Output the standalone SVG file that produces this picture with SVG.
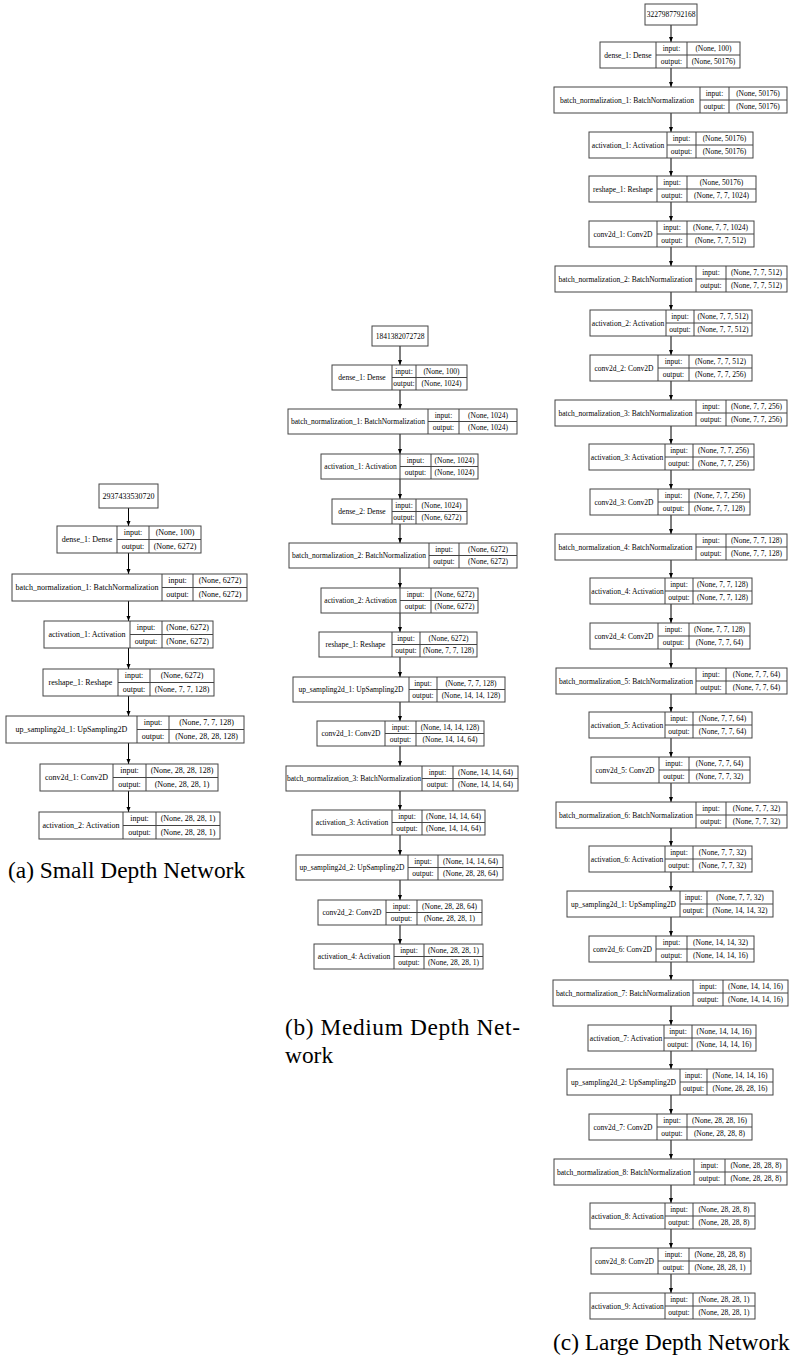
<svg xmlns="http://www.w3.org/2000/svg" width="792" height="1363" viewBox="0 0 792 1363">
<style>
.n rect{fill:#fff;stroke:#444;stroke-width:1}
.n path{fill:none;stroke:#444;stroke-width:1}
.n text{font-family:"Liberation Serif","Times New Roman",serif;font-size:7.5px;text-anchor:middle;fill:#000}
.s text{font-size:8px}
.e path{fill:none;stroke:#000;stroke-width:1}
.cap{font-family:"Liberation Serif","Times New Roman",serif;font-size:23.4px;fill:#000}
</style>
<defs>
<marker id="ah" viewBox="0 0 10 10" refX="10" refY="5" markerWidth="5" markerHeight="5" orient="auto" markerUnits="userSpaceOnUse"><path d="M0,1L10,5L0,9z" fill="#000"/></marker>
</defs>
<g id="connectors" class="e">
<path d="M128.5,508V526" marker-end="url(#ah)"/><path d="M128.5,553V574" marker-end="url(#ah)"/><path d="M128.5,601V621" marker-end="url(#ah)"/><path d="M128.5,648V669" marker-end="url(#ah)"/><path d="M128.5,696V716" marker-end="url(#ah)"/><path d="M128.5,743V764" marker-end="url(#ah)"/><path d="M128.5,791V812" marker-end="url(#ah)"/>
<path d="M400,346V365" marker-end="url(#ah)"/><path d="M400,390V409" marker-end="url(#ah)"/><path d="M400,434V454" marker-end="url(#ah)"/><path d="M400,479V499" marker-end="url(#ah)"/><path d="M400,524V543" marker-end="url(#ah)"/><path d="M400,568V588" marker-end="url(#ah)"/><path d="M400,613V632" marker-end="url(#ah)"/><path d="M400,657V677" marker-end="url(#ah)"/><path d="M400,702V721" marker-end="url(#ah)"/><path d="M400,746V766" marker-end="url(#ah)"/><path d="M400,791V810" marker-end="url(#ah)"/><path d="M400,835V855" marker-end="url(#ah)"/><path d="M400,880V900" marker-end="url(#ah)"/><path d="M400,925V944" marker-end="url(#ah)"/>
<path d="M671,25V42" marker-end="url(#ah)"/><path d="M671,68V87" marker-end="url(#ah)"/><path d="M671,113V132" marker-end="url(#ah)"/><path d="M671,158V176" marker-end="url(#ah)"/><path d="M671,202V221" marker-end="url(#ah)"/><path d="M671,247V266" marker-end="url(#ah)"/><path d="M671,292V310" marker-end="url(#ah)"/><path d="M671,336V355" marker-end="url(#ah)"/><path d="M671,381V400" marker-end="url(#ah)"/><path d="M671,426V444" marker-end="url(#ah)"/><path d="M671,470V489" marker-end="url(#ah)"/><path d="M671,515V534" marker-end="url(#ah)"/><path d="M671,560V578" marker-end="url(#ah)"/><path d="M671,604V623" marker-end="url(#ah)"/><path d="M671,649V668" marker-end="url(#ah)"/><path d="M671,694V712" marker-end="url(#ah)"/><path d="M671,738V757" marker-end="url(#ah)"/><path d="M671,783V802" marker-end="url(#ah)"/><path d="M671,828V846" marker-end="url(#ah)"/><path d="M671,872V891" marker-end="url(#ah)"/><path d="M671,917V936" marker-end="url(#ah)"/><path d="M671,962V980" marker-end="url(#ah)"/><path d="M671,1006V1025" marker-end="url(#ah)"/><path d="M671,1051V1069" marker-end="url(#ah)"/><path d="M671,1095V1114" marker-end="url(#ah)"/><path d="M671,1140V1159" marker-end="url(#ah)"/><path d="M671,1185V1203" marker-end="url(#ah)"/><path d="M671,1229V1248" marker-end="url(#ah)"/><path d="M671,1274V1293" marker-end="url(#ah)"/>
</g>

<!-- (a) Small -->
<g id="a_input" class="n s"><rect x="99" y="484" width="59" height="24"/><text x="128.5" y="499">2937433530720</text></g>
<g id="a_dense_1" class="n s"><rect x="57" y="526" width="144" height="27"/><path d="M117,526v27M149,526v27M117,539.5H201"/><text x="87" y="542.2">dense_1: Dense</text><text x="133" y="535.4">input:</text><text x="133" y="548.9">output:</text><text x="175" y="535.4">(None, 100)</text><text x="175" y="548.9">(None, 6272)</text></g>
<g id="a_batch_normalization_1" class="n s"><rect x="12" y="574" width="235" height="27"/><path d="M162,574v27M193,574v27M162,587.5H247"/><text x="87" y="590.2">batch_normalization_1: BatchNormalization</text><text x="177.5" y="583.4">input:</text><text x="177.5" y="596.9">output:</text><text x="220" y="583.4">(None, 6272)</text><text x="220" y="596.9">(None, 6272)</text></g>
<g id="a_activation_1" class="n s"><rect x="44" y="621" width="169" height="27"/><path d="M130,621v27M162,621v27M130,634.5H213"/><text x="87" y="637.2">activation_1: Activation</text><text x="146" y="630.4">input:</text><text x="146" y="643.9">output:</text><text x="187.5" y="630.4">(None, 6272)</text><text x="187.5" y="643.9">(None, 6272)</text></g>
<g id="a_reshape_1" class="n s"><rect x="43" y="669" width="171" height="27"/><path d="M118,669v27M150,669v27M118,682.5H214"/><text x="80.5" y="685.2">reshape_1: Reshape</text><text x="134" y="678.4">input:</text><text x="134" y="691.9">output:</text><text x="182" y="678.4">(None, 6272)</text><text x="182" y="691.9">(None, 7, 7, 128)</text></g>
<g id="a_up_sampling2d_1" class="n s"><rect x="6" y="716" width="238" height="27"/><path d="M137,716v27M169,716v27M137,729.5H244"/><text x="71.5" y="732.2">up_sampling2d_1: UpSampling2D</text><text x="153" y="725.4">input:</text><text x="153" y="738.9">output:</text><text x="206.5" y="725.4">(None, 7, 7, 128)</text><text x="206.5" y="738.9">(None, 28, 28, 128)</text></g>
<g id="a_conv2d_1" class="n s"><rect x="40" y="764" width="178" height="27"/><path d="M113,764v27M146,764v27M113,777.5H218"/><text x="76.5" y="780.2">conv2d_1: Conv2D</text><text x="129.5" y="773.4">input:</text><text x="129.5" y="786.9">output:</text><text x="182" y="773.4">(None, 28, 28, 128)</text><text x="182" y="786.9">(None, 28, 28, 1)</text></g>
<g id="a_activation_2" class="n s"><rect x="39" y="812" width="181" height="27"/><path d="M123,812v27M156,812v27M123,825.5H220"/><text x="81" y="828.2">activation_2: Activation</text><text x="139.5" y="821.4">input:</text><text x="139.5" y="834.9">output:</text><text x="188" y="821.4">(None, 28, 28, 1)</text><text x="188" y="834.9">(None, 28, 28, 1)</text></g>
<text class="cap" x="8" y="878">(a) Small Depth Network</text>

<!-- (b) Medium -->
<g id="b_input" class="n"><rect x="372" y="326" width="56" height="20"/><text x="400" y="338.6">1841382072728</text></g>
<g id="b_dense_1" class="n"><rect x="332" y="365" width="135" height="25"/><path d="M392,365v25M416,365v25M392,377.5H467"/><text x="362" y="380">dense_1: Dense</text><text x="404" y="373.8">input:</text><text x="404" y="386.3">output:</text><text x="441.5" y="373.8">(None, 100)</text><text x="441.5" y="386.3">(None, 1024)</text></g>
<g id="b_batch_normalization_1" class="n"><rect x="288" y="409" width="229" height="25"/><path d="M428,409v25M459,409v25M428,421.5H517"/><text x="358" y="424">batch_normalization_1: BatchNormalization</text><text x="443.5" y="417.8">input:</text><text x="443.5" y="430.3">output:</text><text x="488" y="417.8">(None, 1024)</text><text x="488" y="430.3">(None, 1024)</text></g>
<g id="b_activation_1" class="n"><rect x="321" y="454" width="157" height="25"/><path d="M400,454v25M431,454v25M400,466.5H478"/><text x="360.5" y="469">activation_1: Activation</text><text x="415.5" y="462.8">input:</text><text x="415.5" y="475.3">output:</text><text x="454.5" y="462.8">(None, 1024)</text><text x="454.5" y="475.3">(None, 1024)</text></g>
<g id="b_dense_2" class="n"><rect x="332" y="499" width="135" height="25"/><path d="M392,499v25M416,499v25M392,511.5H467"/><text x="362" y="514">dense_2: Dense</text><text x="404" y="507.8">input:</text><text x="404" y="520.3">output:</text><text x="441.5" y="507.8">(None, 1024)</text><text x="441.5" y="520.3">(None, 6272)</text></g>
<g id="b_batch_normalization_2" class="n"><rect x="289" y="543" width="228" height="25"/><path d="M429,543v25M459,543v25M429,555.5H517"/><text x="359" y="558">batch_normalization_2: BatchNormalization</text><text x="444" y="551.8">input:</text><text x="444" y="564.3">output:</text><text x="488" y="551.8">(None, 6272)</text><text x="488" y="564.3">(None, 6272)</text></g>
<g id="b_activation_2" class="n"><rect x="321" y="588" width="157" height="25"/><path d="M400,588v25M431,588v25M400,600.5H478"/><text x="360.5" y="603">activation_2: Activation</text><text x="415.5" y="596.8">input:</text><text x="415.5" y="609.3">output:</text><text x="454.5" y="596.8">(None, 6272)</text><text x="454.5" y="609.3">(None, 6272)</text></g>
<g id="b_reshape_1" class="n"><rect x="319" y="632" width="158" height="25"/><path d="M392,632v25M420,632v25M392,644.5H477"/><text x="355.5" y="647">reshape_1: Reshape</text><text x="406" y="640.8">input:</text><text x="406" y="653.3">output:</text><text x="448.5" y="640.8">(None, 6272)</text><text x="448.5" y="653.3">(None, 7, 7, 128)</text></g>
<g id="b_up_sampling2d_1" class="n"><rect x="293" y="677" width="212" height="25"/><path d="M409,677v25M437,677v25M409,689.5H505"/><text x="351" y="692">up_sampling2d_1: UpSampling2D</text><text x="423" y="685.8">input:</text><text x="423" y="698.3">output:</text><text x="471" y="685.8">(None, 7, 7, 128)</text><text x="471" y="698.3">(None, 14, 14, 128)</text></g>
<g id="b_conv2d_1" class="n"><rect x="317" y="721" width="167" height="25"/><path d="M385,721v25M416,721v25M385,733.5H484"/><text x="351" y="736">conv2d_1: Conv2D</text><text x="400.5" y="729.8">input:</text><text x="400.5" y="742.3">output:</text><text x="450" y="729.8">(None, 14, 14, 128)</text><text x="450" y="742.3">(None, 14, 14, 64)</text></g>
<g id="b_batch_normalization_3" class="n"><rect x="286" y="766" width="232" height="25"/><path d="M422,766v25M453,766v25M422,778.5H518"/><text x="354" y="781">batch_normalization_3: BatchNormalization</text><text x="437.5" y="774.8">input:</text><text x="437.5" y="787.3">output:</text><text x="485.5" y="774.8">(None, 14, 14, 64)</text><text x="485.5" y="787.3">(None, 14, 14, 64)</text></g>
<g id="b_activation_3" class="n"><rect x="312" y="810" width="173" height="25"/><path d="M392,810v25M422,810v25M392,822.5H485"/><text x="352" y="825">activation_3: Activation</text><text x="407" y="818.8">input:</text><text x="407" y="831.3">output:</text><text x="453.5" y="818.8">(None, 14, 14, 64)</text><text x="453.5" y="831.3">(None, 14, 14, 64)</text></g>
<g id="b_up_sampling2d_2" class="n"><rect x="296" y="855" width="207" height="25"/><path d="M408,855v25M438,855v25M408,867.5H503"/><text x="352" y="870">up_sampling2d_2: UpSampling2D</text><text x="423" y="863.8">input:</text><text x="423" y="876.3">output:</text><text x="470.5" y="863.8">(None, 14, 14, 64)</text><text x="470.5" y="876.3">(None, 28, 28, 64)</text></g>
<g id="b_conv2d_2" class="n"><rect x="318" y="900" width="164" height="25"/><path d="M386,900v25M417,900v25M386,912.5H482"/><text x="352" y="915">conv2d_2: Conv2D</text><text x="401.5" y="908.8">input:</text><text x="401.5" y="921.3">output:</text><text x="449.5" y="908.8">(None, 28, 28, 64)</text><text x="449.5" y="921.3">(None, 28, 28, 1)</text></g>
<g id="b_activation_4" class="n"><rect x="314" y="944" width="169" height="25"/><path d="M394,944v25M424,944v25M394,956.5H483"/><text x="354" y="959">activation_4: Activation</text><text x="409" y="952.8">input:</text><text x="409" y="965.3">output:</text><text x="453.5" y="952.8">(None, 28, 28, 1)</text><text x="453.5" y="965.3">(None, 28, 28, 1)</text></g>
<text class="cap" x="285" y="1035" textLength="235" lengthAdjust="spacing">(b) Medium Depth Net-</text>
<text class="cap" x="285" y="1063">work</text>

<!-- (c) Large -->
<g id="c_input" class="n"><rect x="645" y="4" width="52" height="21"/><text x="671" y="17.2">3227987792168</text></g>
<g id="c_dense_1" class="n"><rect x="600" y="42" width="140" height="26"/><path d="M656,42v26M687,42v26M656,55H740"/><text x="628" y="57.5">dense_1: Dense</text><text x="671.5" y="51">input:</text><text x="671.5" y="64">output:</text><text x="713.5" y="51">(None, 100)</text><text x="713.5" y="64">(None, 50176)</text></g>
<g id="c_batch_normalization_1" class="n"><rect x="554" y="87" width="233" height="26"/><path d="M700,87v26M729,87v26M700,100H787"/><text x="627" y="102.5">batch_normalization_1: BatchNormalization</text><text x="714.5" y="96">input:</text><text x="714.5" y="109">output:</text><text x="758" y="96">(None, 50176)</text><text x="758" y="109">(None, 50176)</text></g>
<g id="c_activation_1" class="n"><rect x="589" y="132" width="164" height="26"/><path d="M667,132v26M696,132v26M667,145H753"/><text x="628" y="147.5">activation_1: Activation</text><text x="681.5" y="141">input:</text><text x="681.5" y="154">output:</text><text x="724.5" y="141">(None, 50176)</text><text x="724.5" y="154">(None, 50176)</text></g>
<g id="c_reshape_1" class="n"><rect x="589" y="176" width="167" height="26"/><path d="M657,176v26M687,176v26M657,189H756"/><text x="623" y="191.5">reshape_1: Reshape</text><text x="672" y="185">input:</text><text x="672" y="198">output:</text><text x="721.5" y="185">(None, 50176)</text><text x="721.5" y="198">(None, 7, 7, 1024)</text></g>
<g id="c_conv2d_1" class="n"><rect x="589" y="221" width="165" height="26"/><path d="M657,221v26M687,221v26M657,234H754"/><text x="623" y="236.5">conv2d_1: Conv2D</text><text x="672" y="230">input:</text><text x="672" y="243">output:</text><text x="720.5" y="230">(None, 7, 7, 1024)</text><text x="720.5" y="243">(None, 7, 7, 512)</text></g>
<g id="c_batch_normalization_2" class="n"><rect x="555" y="266" width="232" height="26"/><path d="M696,266v26M726,266v26M696,279H787"/><text x="625.5" y="281.5">batch_normalization_2: BatchNormalization</text><text x="711" y="275">input:</text><text x="711" y="288">output:</text><text x="756.5" y="275">(None, 7, 7, 512)</text><text x="756.5" y="288">(None, 7, 7, 512)</text></g>
<g id="c_activation_2" class="n"><rect x="590" y="310" width="162" height="26"/><path d="M666,310v26M694,310v26M666,323H752"/><text x="628" y="325.5">activation_2: Activation</text><text x="680" y="319">input:</text><text x="680" y="332">output:</text><text x="723" y="319">(None, 7, 7, 512)</text><text x="723" y="332">(None, 7, 7, 512)</text></g>
<g id="c_conv2d_2" class="n"><rect x="590" y="355" width="162" height="26"/><path d="M658,355v26M689,355v26M658,368H752"/><text x="624" y="370.5">conv2d_2: Conv2D</text><text x="673.5" y="364">input:</text><text x="673.5" y="377">output:</text><text x="720.5" y="364">(None, 7, 7, 512)</text><text x="720.5" y="377">(None, 7, 7, 256)</text></g>
<g id="c_batch_normalization_3" class="n"><rect x="555" y="400" width="232" height="26"/><path d="M696,400v26M726,400v26M696,413H787"/><text x="625.5" y="415.5">batch_normalization_3: BatchNormalization</text><text x="711" y="409">input:</text><text x="711" y="422">output:</text><text x="756.5" y="409">(None, 7, 7, 256)</text><text x="756.5" y="422">(None, 7, 7, 256)</text></g>
<g id="c_activation_3" class="n"><rect x="589" y="444" width="165" height="26"/><path d="M665,444v26M693,444v26M665,457H754"/><text x="627" y="459.5">activation_3: Activation</text><text x="679" y="453">input:</text><text x="679" y="466">output:</text><text x="723.5" y="453">(None, 7, 7, 256)</text><text x="723.5" y="466">(None, 7, 7, 256)</text></g>
<g id="c_conv2d_3" class="n"><rect x="590" y="489" width="160" height="26"/><path d="M658,489v26M689,489v26M658,502H750"/><text x="624" y="504.5">conv2d_3: Conv2D</text><text x="673.5" y="498">input:</text><text x="673.5" y="511">output:</text><text x="719.5" y="498">(None, 7, 7, 256)</text><text x="719.5" y="511">(None, 7, 7, 128)</text></g>
<g id="c_batch_normalization_4" class="n"><rect x="555" y="534" width="232" height="26"/><path d="M696,534v26M726,534v26M696,547H787"/><text x="625.5" y="549.5">batch_normalization_4: BatchNormalization</text><text x="711" y="543">input:</text><text x="711" y="556">output:</text><text x="756.5" y="543">(None, 7, 7, 128)</text><text x="756.5" y="556">(None, 7, 7, 128)</text></g>
<g id="c_activation_4" class="n"><rect x="590" y="578" width="162" height="26"/><path d="M665,578v26M693,578v26M665,591H752"/><text x="627.5" y="593.5">activation_4: Activation</text><text x="679" y="587">input:</text><text x="679" y="600">output:</text><text x="722.5" y="587">(None, 7, 7, 128)</text><text x="722.5" y="600">(None, 7, 7, 128)</text></g>
<g id="c_conv2d_4" class="n"><rect x="590" y="623" width="160" height="26"/><path d="M658,623v26M689,623v26M658,636H750"/><text x="624" y="638.5">conv2d_4: Conv2D</text><text x="673.5" y="632">input:</text><text x="673.5" y="645">output:</text><text x="719.5" y="632">(None, 7, 7, 128)</text><text x="719.5" y="645">(None, 7, 7, 64)</text></g>
<g id="c_batch_normalization_5" class="n"><rect x="556" y="668" width="231" height="26"/><path d="M696,668v26M726,668v26M696,681H787"/><text x="626" y="683.5">batch_normalization_5: BatchNormalization</text><text x="711" y="677">input:</text><text x="711" y="690">output:</text><text x="756.5" y="677">(None, 7, 7, 64)</text><text x="756.5" y="690">(None, 7, 7, 64)</text></g>
<g id="c_activation_5" class="n"><rect x="589" y="712" width="163" height="26"/><path d="M665,712v26M693,712v26M665,725H752"/><text x="627" y="727.5">activation_5: Activation</text><text x="679" y="721">input:</text><text x="679" y="734">output:</text><text x="722.5" y="721">(None, 7, 7, 64)</text><text x="722.5" y="734">(None, 7, 7, 64)</text></g>
<g id="c_conv2d_5" class="n"><rect x="591" y="757" width="159" height="26"/><path d="M659,757v26M689,757v26M659,770H750"/><text x="625" y="772.5">conv2d_5: Conv2D</text><text x="674" y="766">input:</text><text x="674" y="779">output:</text><text x="719.5" y="766">(None, 7, 7, 64)</text><text x="719.5" y="779">(None, 7, 7, 32)</text></g>
<g id="c_batch_normalization_6" class="n"><rect x="556" y="802" width="231" height="26"/><path d="M696,802v26M726,802v26M696,815H787"/><text x="626" y="817.5">batch_normalization_6: BatchNormalization</text><text x="711" y="811">input:</text><text x="711" y="824">output:</text><text x="756.5" y="811">(None, 7, 7, 32)</text><text x="756.5" y="824">(None, 7, 7, 32)</text></g>
<g id="c_activation_6" class="n"><rect x="589" y="846" width="163" height="26"/><path d="M665,846v26M693,846v26M665,859H752"/><text x="627" y="861.5">activation_6: Activation</text><text x="679" y="855">input:</text><text x="679" y="868">output:</text><text x="722.5" y="855">(None, 7, 7, 32)</text><text x="722.5" y="868">(None, 7, 7, 32)</text></g>
<g id="c_up_sampling2d_1" class="n"><rect x="567" y="891" width="206" height="26"/><path d="M680,891v26M707,891v26M680,904H773"/><text x="623.5" y="906.5">up_sampling2d_1: UpSampling2D</text><text x="693.5" y="900">input:</text><text x="693.5" y="913">output:</text><text x="740" y="900">(None, 7, 7, 32)</text><text x="740" y="913">(None, 14, 14, 32)</text></g>
<g id="c_conv2d_6" class="n"><rect x="589" y="936" width="165" height="26"/><path d="M656,936v26M687,936v26M656,949H754"/><text x="622.5" y="951.5">conv2d_6: Conv2D</text><text x="671.5" y="945">input:</text><text x="671.5" y="958">output:</text><text x="720.5" y="945">(None, 14, 14, 32)</text><text x="720.5" y="958">(None, 14, 14, 16)</text></g>
<g id="c_batch_normalization_7" class="n"><rect x="553" y="980" width="235" height="26"/><path d="M693,980v26M723,980v26M693,993H788"/><text x="623" y="995.5">batch_normalization_7: BatchNormalization</text><text x="708" y="989">input:</text><text x="708" y="1002">output:</text><text x="755.5" y="989">(None, 14, 14, 16)</text><text x="755.5" y="1002">(None, 14, 14, 16)</text></g>
<g id="c_activation_7" class="n"><rect x="588" y="1025" width="168" height="26"/><path d="M664,1025v26M692,1025v26M664,1038H756"/><text x="626" y="1040.5">activation_7: Activation</text><text x="678" y="1034">input:</text><text x="678" y="1047">output:</text><text x="724" y="1034">(None, 14, 14, 16)</text><text x="724" y="1047">(None, 14, 14, 16)</text></g>
<g id="c_up_sampling2d_2" class="n"><rect x="567" y="1069" width="206" height="26"/><path d="M680,1069v26M707,1069v26M680,1082H773"/><text x="623.5" y="1084.5">up_sampling2d_2: UpSampling2D</text><text x="693.5" y="1078">input:</text><text x="693.5" y="1091">output:</text><text x="740" y="1078">(None, 14, 14, 16)</text><text x="740" y="1091">(None, 28, 28, 16)</text></g>
<g id="c_conv2d_7" class="n"><rect x="589" y="1114" width="163" height="26"/><path d="M657,1114v26M687,1114v26M657,1127H752"/><text x="623" y="1129.5">conv2d_7: Conv2D</text><text x="672" y="1123">input:</text><text x="672" y="1136">output:</text><text x="719.5" y="1123">(None, 28, 28, 16)</text><text x="719.5" y="1136">(None, 28, 28, 8)</text></g>
<g id="c_batch_normalization_8" class="n"><rect x="554" y="1159" width="233" height="26"/><path d="M694,1159v26M725,1159v26M694,1172H787"/><text x="624" y="1174.5">batch_normalization_8: BatchNormalization</text><text x="709.5" y="1168">input:</text><text x="709.5" y="1181">output:</text><text x="756" y="1168">(None, 28, 28, 8)</text><text x="756" y="1181">(None, 28, 28, 8)</text></g>
<g id="c_activation_8" class="n"><rect x="590" y="1203" width="165" height="26"/><path d="M665,1203v26M693,1203v26M665,1216H755"/><text x="627.5" y="1218.5">activation_8: Activation</text><text x="679" y="1212">input:</text><text x="679" y="1225">output:</text><text x="724" y="1212">(None, 28, 28, 8)</text><text x="724" y="1225">(None, 28, 28, 8)</text></g>
<g id="c_conv2d_8" class="n"><rect x="591" y="1248" width="160" height="26"/><path d="M658,1248v26M689,1248v26M658,1261H751"/><text x="624.5" y="1263.5">conv2d_8: Conv2D</text><text x="673.5" y="1257">input:</text><text x="673.5" y="1270">output:</text><text x="720" y="1257">(None, 28, 28, 8)</text><text x="720" y="1270">(None, 28, 28, 1)</text></g>
<g id="c_activation_9" class="n"><rect x="590" y="1293" width="165" height="26"/><path d="M665,1293v26M693,1293v26M665,1306H755"/><text x="627.5" y="1308.5">activation_9: Activation</text><text x="679" y="1302">input:</text><text x="679" y="1315">output:</text><text x="724" y="1302">(None, 28, 28, 1)</text><text x="724" y="1315">(None, 28, 28, 1)</text></g>
<text class="cap" x="553" y="1350">(c) Large Depth Network</text>
</svg>
